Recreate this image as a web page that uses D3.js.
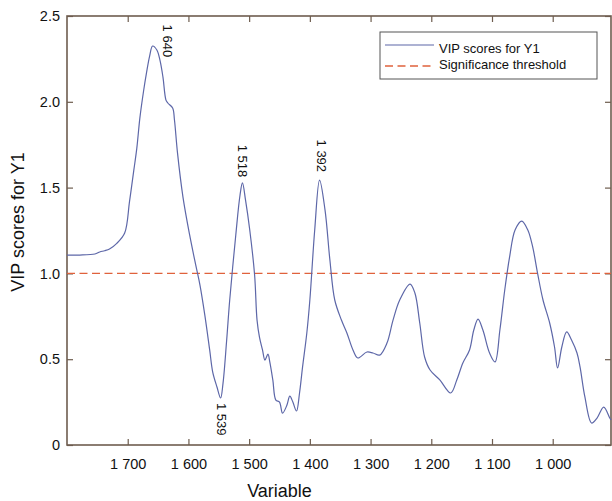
<!DOCTYPE html>
<html>
<head>
<meta charset="utf-8">
<script src="https://cdn.jsdelivr.net/npm/d3@7"></script>
<style>
  body { margin: 0; background: #fff; }
  text { font-family: "Liberation Sans", Arial, sans-serif; fill: #111; }
</style>
</head>
<body>
<svg id="chart" width="612" height="501"></svg>
<script>
'use strict'

// wavenumbers (descending, like the axis) - 10 per line
const wavenumbers = [
  1800, 1779, 1754, 1746, 1738, 1730, 1718, 1705, 1697, 1690,
  1685, 1680, 1674, 1669, 1664, 1659, 1652, 1647, 1642, 1637,
  1634, 1626, 1623, 1618, 1609, 1598, 1588, 1581, 1573, 1565,
  1560, 1553, 1547, 1543, 1537, 1532, 1522, 1515, 1511, 1506,
  1499, 1491, 1487, 1483, 1478, 1474, 1469, 1466, 1461, 1456,
  1450, 1445, 1438, 1433, 1428, 1422, 1417, 1412, 1405, 1400,
  1392, 1384, 1375, 1367, 1359, 1348, 1339, 1329, 1321, 1306,
  1296, 1285, 1273, 1263, 1252, 1235, 1227, 1219, 1211, 1202,
  1186, 1168, 1158, 1148, 1137, 1130, 1123, 1115, 1104, 1095,
  1087, 1079, 1071, 1062, 1051, 1041, 1033, 1025, 1016, 1005,
  997, 992, 985, 977, 969, 960, 955, 947, 936, 927,
  916, 906, 904];

// VIP scores for Y1 - matches the lines above
const vipScores = [
  1.107, 1.107, 1.113, 1.125, 1.132, 1.142, 1.175, 1.235, 1.420, 1.600,
  1.730, 1.905, 2.060, 2.170, 2.265, 2.325, 2.302, 2.244, 2.145, 2.010,
  1.993, 1.964, 1.894, 1.702, 1.445, 1.224, 1.049, 0.932, 0.757, 0.554,
  0.425, 0.338, 0.274, 0.361, 0.612, 0.845, 1.224, 1.457, 1.527, 1.428,
  1.253, 0.991, 0.728, 0.629, 0.554, 0.495, 0.530, 0.484, 0.379, 0.262,
  0.250, 0.186, 0.230, 0.285, 0.250, 0.198, 0.303, 0.455, 0.653, 0.845,
  1.253, 1.544, 1.369, 1.078, 0.845, 0.728, 0.653, 0.554, 0.507, 0.542,
  0.536, 0.524, 0.594, 0.728, 0.845, 0.938, 0.886, 0.711, 0.513, 0.437,
  0.379, 0.303, 0.379, 0.478, 0.554, 0.670, 0.734, 0.670, 0.536, 0.484,
  0.670, 0.903, 1.096, 1.253, 1.305, 1.253, 1.154, 1.002, 0.845, 0.711,
  0.571, 0.449, 0.571, 0.659, 0.612, 0.536, 0.455, 0.280, 0.128, 0.157,
  0.221, 0.157, 0.146];

const threshold = 1.0;

const xTicks = [1700, 1600, 1500, 1400, 1300, 1200, 1100, 1000];
const yTicks = [0, 0.5, 1.0, 1.5, 2.0, 2.5];

// peak labels: text, wavenumber of the label centre, score at the top of the label
const peakLabels = ["1 640", "1 518", "1 392", "1 539"];
const peakX = [1636, 1513, 1382, 1548];
const peakY = [2.45, 1.75, 1.78, 0.245];

const legendLabels = ["VIP scores for Y1", "Significance threshold"];

const lineColor = "#5d67a8";
const dashColor = "#e0623c";
const axisColor = "#6e5d4f";

const svg = d3.select("#chart"),
      margin = {top: 16, right: 1, bottom: 56, left: 67},
      width = +svg.attr("width") - margin.left - margin.right,
      height = +svg.attr("height") - margin.top - margin.bottom,
      g = svg.append("g").attr("transform", `translate(${margin.left},${margin.top})`);

const x = d3.scaleLinear().domain([1800, 904]).range([0, width]);
const y = d3.scaleLinear().domain([0, 2.5]).range([height, 0]);

const fmtX = d => { const s = String(d); return s.length > 3 ? s.slice(0, s.length - 3) + " " + s.slice(-3) : s; };
const fmtY = d => d === 0 ? "0" : d3.format(".1f")(d);

// axes (inner ticks, on all four sides)
function styleAxis(sel) {
  sel.select(".domain").remove();
  sel.selectAll(".tick line").attr("stroke", axisColor).attr("stroke-width", 1.2);
  sel.selectAll(".tick text").style("font-size", "14.5px").attr("fill", "#111");
}

g.append("g")
  .attr("transform", `translate(0,${height})`)
  .call(d3.axisBottom(x).tickValues(xTicks).tickFormat(fmtX).tickSizeInner(-6).tickPadding(14))
  .call(styleAxis);

g.append("g")
  .call(d3.axisTop(x).tickValues(xTicks).tickFormat("").tickSizeInner(-6))
  .call(styleAxis);

g.append("g")
  .call(d3.axisLeft(y).tickValues(yTicks).tickFormat(fmtY).tickSizeInner(-6).tickPadding(7))
  .call(styleAxis);

g.append("g")
  .attr("transform", `translate(${width},0)`)
  .call(d3.axisRight(y).tickValues(yTicks).tickFormat("").tickSizeInner(-6))
  .call(styleAxis);

// frame
g.append("rect")
  .attr("width", width).attr("height", height)
  .attr("fill", "none").attr("stroke", axisColor).attr("stroke-width", 1.6);

// threshold
g.append("line")
  .attr("x1", 0).attr("x2", width)
  .attr("y1", y(threshold)).attr("y2", y(threshold))
  .attr("stroke", dashColor).attr("stroke-width", 1.3)
  .attr("stroke-dasharray", "8,4.5");

// VIP curve
const line = d3.line()
  .x((d, i) => x(wavenumbers[i]))
  .y(d => y(d))
  .curve(d3.curveCatmullRom.alpha(0.5));

g.append("path")
  .datum(vipScores)
  .attr("fill", "none")
  .attr("stroke", lineColor)
  .attr("stroke-width", 1.2)
  .attr("d", line);

// peak labels, rotated
peakLabels.forEach((t, i) => {
  g.append("text")
    .attr("transform", `translate(${x(peakX[i])},${y(peakY[i])}) rotate(90)`)
    .attr("dominant-baseline", "middle")
    .style("font-size", "13px")
    .text(t);
});

// legend
const lg = svg.append("g").attr("transform", "translate(380,32)");
lg.append("rect").attr("width", 217).attr("height", 47)
  .attr("fill", "#fff").attr("stroke", "#555").attr("stroke-width", 1);
lg.append("line").attr("x1", 5).attr("x2", 54).attr("y1", 13).attr("y2", 13)
  .attr("stroke", lineColor).attr("stroke-width", 1.2);
lg.append("line").attr("x1", 5).attr("x2", 54).attr("y1", 34).attr("y2", 34)
  .attr("stroke", dashColor).attr("stroke-width", 1.3).attr("stroke-dasharray", "8,4.5");
legendLabels.forEach((t, i) => {
  lg.append("text").attr("x", 59).attr("y", 21 + i * 16)
    .style("font-size", "13px").text(t);
});

// axis titles
svg.append("text")
  .attr("x", margin.left + x(1450)).attr("y", 497)
  .attr("text-anchor", "middle")
  .style("font-size", "18px")
  .text("Variable");

svg.append("text")
  .attr("transform", `translate(24,222) rotate(-90)`)
  .attr("text-anchor", "middle")
  .style("font-size", "18px")
  .text("VIP scores for Y1");
</script>
</body>
</html>
